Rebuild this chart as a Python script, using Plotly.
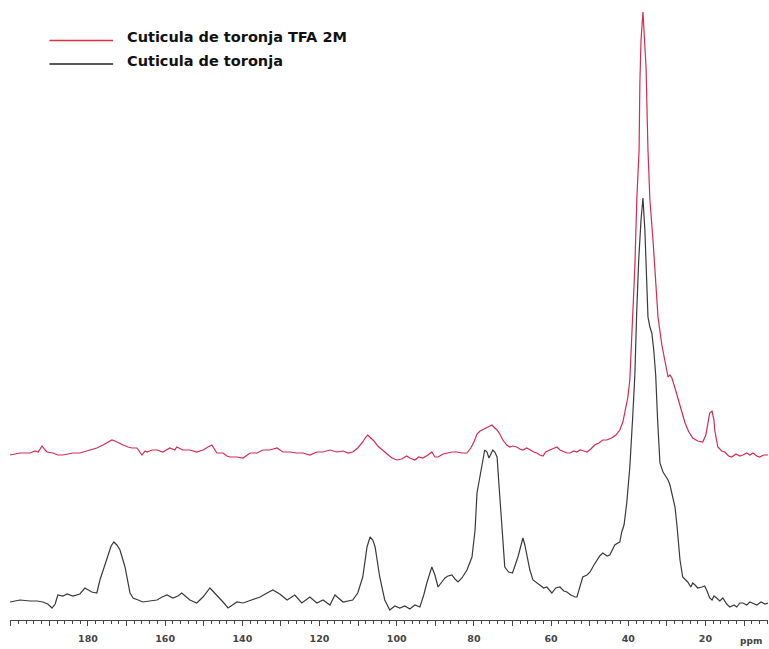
import plotly.graph_objects as go

# ---- data (ppm, intensity in arbitrary units) ----
black_ppm = [200.2,197.6,195.0,193.2,191.7,190.4,189.3,188.5,187.8,186.5,185.4,183.9,182.1,180.8,179.0,177.7,176.9,175.9,175.1,174.0,173.3,172.5,171.7,170.4,169.1,168.3,167.0,165.8,164.0,162.1,160.8,159.5,158.0,156.7,155.7,154.6,153.6,151.8,150.2,148.4,146.6,145.0,143.7,141.4,139.8,137.3,135.4,133.6,132.1,130.3,128.4,126.4,124.6,122.5,120.7,119.1,117.3,116.0,113.9,111.4,110.1,108.8,107.7,106.9,106.2,105.6,104.4,103.1,101.8,100.5,99.2,97.9,96.6,95.3,94.0,93.0,92.2,90.9,90.1,89.3,88.5,87.5,86.7,85.7,84.9,84.1,83.1,81.8,80.5,79.7,79.2,78.4,77.9,77.2,76.6,76.1,75.6,75.1,74.6,74.0,73.5,73.0,72.5,72.0,71.0,70.0,68.6,67.8,67.3,66.8,66.0,65.5,64.7,63.7,62.9,61.9,61.1,60.3,59.8,58.8,57.7,56.7,55.9,54.9,53.8,53.3,52.6,51.8,50.7,49.9,48.9,48.1,47.4,46.6,45.5,44.8,44.0,43.5,42.7,42.2,41.7,41.1,40.4,39.6,38.8,38.3,37.8,37.3,36.7,36.2,35.7,35.2,34.9,34.4,33.9,33.4,32.9,32.4,31.8,31.0,30.5,29.7,29.2,28.4,27.9,27.4,27.1,26.6,25.9,25.1,24.6,23.8,23.3,22.7,22.0,20.9,20.2,19.7,18.9,18.3,17.8,17.1,16.3,15.5,14.5,13.7,12.6,11.9,11.1,10.3,9.3,8.5,7.5,6.7,5.6,4.6,3.8]
black_int = [18,20,19,19,18,16,12,16,25,24,26,24,26,32,28,27,40,52,60,74,78,75,70,53,27,22,20,18,19,20,23,25,22,24,27,23,20,17,23,32,25,18,12,18,17,20,23,27,30,26,20,25,17,23,17,20,15,25,18,20,27,43,73,83,80,73,43,20,10,14,12,14,11,15,13,25,37,53,45,33,37,42,44,45,41,38,42,50,63,90,127,145,157,170,168,162,166,170,168,163,135,110,80,53,48,47,63,75,82,75,60,50,40,37,35,32,33,29,27,32,33,29,28,25,23,23,33,43,45,48,55,60,64,67,64,65,71,75,77,78,88,95,117,153,207,245,310,360,400,422,390,325,303,293,287,270,245,200,157,148,145,140,135,120,113,95,80,60,43,40,38,33,37,35,32,33,34,30,22,20,24,22,19,22,16,13,15,13,17,17,15,18,16,15,18,16,17]

red_ppm = [200.2,197.6,195.0,193.7,192.9,191.9,191.1,190.6,189.1,187.8,186.5,185.2,183.9,182.1,180.3,179.0,177.7,176.1,175.1,173.8,173.0,172.5,171.7,170.9,169.6,168.6,167.3,166.5,166.0,165.2,164.7,163.4,162.1,160.6,159.5,158.8,157.5,157.0,155.4,153.6,151.8,150.2,148.9,147.9,147.1,146.6,145.0,144.0,143.2,141.4,139.8,138.0,136.2,134.7,132.9,131.0,129.5,127.7,125.9,124.3,122.5,120.7,119.1,117.3,115.5,113.9,112.6,111.4,110.1,108.8,108.0,107.5,106.7,105.9,104.9,103.8,102.5,101.2,100.0,98.7,97.4,96.6,95.3,94.3,93.2,91.9,90.9,90.1,89.3,88.0,87.0,85.7,84.4,83.1,81.8,80.8,80.0,79.2,78.4,77.4,76.6,75.9,75.3,74.6,74.0,73.3,72.5,71.5,70.7,69.9,68.9,68.1,67.3,66.3,65.5,64.5,63.7,62.9,62.1,61.4,60.3,59.5,58.5,57.7,57.0,55.9,55.1,54.1,53.3,52.5,51.5,50.7,49.7,48.7,47.6,46.6,45.6,44.3,43.2,42.2,41.4,40.9,40.1,39.6,38.8,38.3,37.8,37.2,37.0,36.7,36.2,35.7,35.4,34.9,34.4,33.6,33.1,32.3,31.3,30.5,29.7,29.2,28.7,27.9,27.2,26.1,25.3,24.3,23.3,22.0,20.7,19.9,19.4,18.9,18.3,17.8,17.6,16.8,15.8,15.0,14.0,13.2,12.1,11.1,10.3,9.3,8.5,7.7,6.7,6.0,4.9,3.8]
red_int = [165,167,167,169,168,174,170,168,167,165,165,166,167,167,169,171,172,175,177,180,179,178,176,175,173,172,172,168,165,169,168,170,170,168,171,172,170,173,170,170,168,170,173,175,170,167,167,164,163,163,162,167,167,170,170,172,168,168,167,167,165,168,168,170,168,169,167,168,172,178,183,185,182,179,174,170,166,162,160,161,164,162,160,163,162,165,168,163,163,166,167,168,168,167,167,172,178,186,189,191,192,194,195,192,190,186,180,175,173,174,173,171,170,172,170,168,167,165,164,168,170,171,173,170,169,167,167,169,168,170,169,168,171,175,177,180,180,182,185,190,198,207,223,240,303,353,420,470,537,580,608,580,553,470,420,380,353,303,275,258,243,245,242,232,223,208,197,188,182,179,178,185,195,207,209,200,190,173,169,168,164,163,166,164,165,167,165,167,164,163,165,165]

series_names = ["Cuticula de toronja TFA 2M", "Cuticula de toronja"]
series_colors = ["#d62a52", "#3a3a3a"]
legend_line_colors = ["#e0303f", "#222222"]

tick_vals = list(range(10, 201, 10))
tick_text = [str(v) if (v % 20 == 0 and 20 <= v <= 180) else "" for v in tick_vals]

fig = go.Figure()
fig.add_trace(go.Scatter(x=red_ppm, y=red_int, mode="lines", name=series_names[0],
                         line=dict(color=series_colors[0], width=1.2), showlegend=False))
fig.add_trace(go.Scatter(x=black_ppm, y=black_int, mode="lines", name=series_names[1],
                         line=dict(color=series_colors[1], width=1.2), showlegend=False))

# legend drawn as short lines + labels
legend_line_y = [0.9347, 0.8968]
legend_text_y = [0.9403, 0.9016]
for name, col, ly, ty in zip(series_names, legend_line_colors, legend_line_y, legend_text_y):
    fig.add_shape(type="line", xref="paper", yref="paper",
                  x0=0.052, x1=0.136, y0=ly, y1=ly,
                  line=dict(color=col, width=1.5))
    fig.add_annotation(x=0.152, y=ty, xref="paper", yref="paper",
                       text=name, showarrow=False, xanchor="left", yanchor="middle",
                       font=dict(family="DejaVu Sans", size=14.5, color="#111", weight="bold"))

fig.add_annotation(x=1.0, y=0, xref="paper", yref="paper", text="ppm",
                   showarrow=False, xanchor="right", yanchor="top", yshift=-14, xshift=-4,
                   font=dict(family="DejaVu Sans", size=9, color="#444", weight="bold"))

fig.update_xaxes(range=[200.2, 3.8], showgrid=False, zeroline=False,
                 showline=True, linecolor="#444", linewidth=1,
                 ticks="outside", ticklen=5, tickcolor="#444", tickwidth=1,
                 tickvals=tick_vals, ticktext=tick_text, ticklabelstandoff=5,
                 tickfont=dict(family="DejaVu Sans", size=9.5, color="#444", weight="bold"),
                 minor=dict(dtick=2, tick0=0, ticks="outside", ticklen=3, tickcolor="#444"))
fig.update_yaxes(range=[0, 620], visible=False, showgrid=False, zeroline=False)

fig.update_layout(width=769, height=649, margin=dict(l=10, r=1, t=0, b=29),
                  paper_bgcolor="white", plot_bgcolor="white")

fig.write_html("out.html")
